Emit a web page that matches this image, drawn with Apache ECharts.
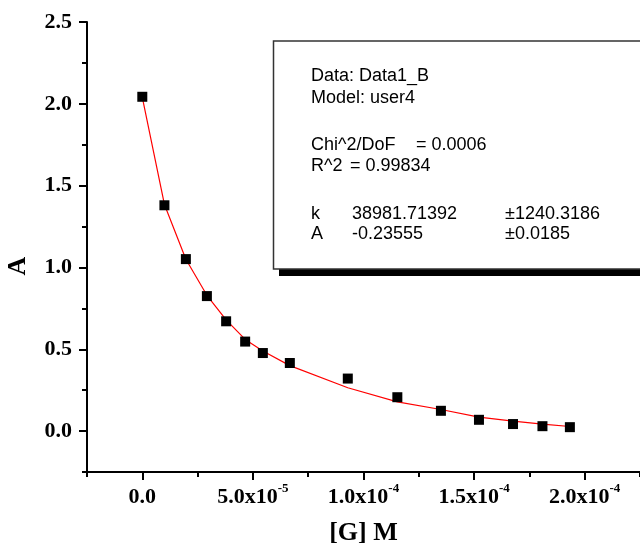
<!DOCTYPE html>
<html>
<head>
<meta charset="utf-8">
<script src="https://cdn.jsdelivr.net/npm/echarts@6/dist/echarts.min.js"></script>
<style>
  html, body { margin: 0; padding: 0; background: #fff; }
  #chart { width: 640px; height: 552px; }
</style>
</head>
<body>
<div id="chart"></div>
<script>
// Guest concentration [G] (M) and measured absorbance A
const concX = [0, 1.0e-5, 1.97e-5, 2.92e-5, 3.79e-5, 4.65e-5, 5.45e-5, 6.67e-5,
               9.29e-5, 11.53e-5, 13.5e-5, 15.22e-5, 16.76e-5, 18.09e-5, 19.33e-5];
const absA = [2.043, 1.380, 1.051, 0.825, 0.671, 0.547, 0.477, 0.416,
              0.321, 0.207, 0.124, 0.069, 0.043, 0.030, 0.024];
// Fitted curve evaluated at the same concentrations
const fitA = [2.04, 1.385, 1.05, 0.83, 0.68, 0.56, 0.49, 0.40,
              0.265, 0.179, 0.132, 0.085, 0.061, 0.043, 0.028];

// Axis ticks and labels
const xTickValues = [0, 5e-5, 1e-4, 1.5e-4, 2e-4];
const xTickLabels = ['{b|0.0}', '{b|5.0x10}{s|-5}', '{b|1.0x10}{s|-4}', '{b|1.5x10}{s|-4}', '{b|2.0x10}{s|-4}'];
const xMinorValues = [-2.5e-5, 2.5e-5, 7.5e-5, 1.25e-4, 1.75e-4, 2.25e-4];
const yTickValues = [0, 0.5, 1, 1.5, 2, 2.5];
const yTickLabels = ['0.0', '0.5', '1.0', '1.5', '2.0', '2.5'];
const yMinorValues = [-0.25, 0.25, 0.75, 1.25, 1.75, 2.25];
const xTitle = '[G] M';
const yTitle = 'A';

// Fit report shown in the panel
const fitInfo = [
  ['Data: Data1_B'],
  ['Model: user4'],
  ['Chi^2/DoF', '= 0.0006'],
  ['R^2', '= 0.99834'],
  ['k', '38981.71392', '\u00b11240.3186'],
  ['A', '-0.23555', '\u00b10.0185']
];

const SERIF = '"Liberation Serif", "Times New Roman", serif';
const SANS = '"Liberation Sans", Arial, sans-serif';

function labelFor(values, labels, v) {
  for (let i = 0; i < values.length; i++) {
    if (Math.abs(values[i] - v) < 1e-9) return labels[i];
  }
  return '';
}

const chart = echarts.init(document.getElementById('chart'), null, { renderer: 'canvas' });

// Panel text layout
const rowY = [76.5, 98, 145, 166, 214, 234.5];
const colX = [
  [311],
  [311],
  [311, 416],
  [311, 350],
  [311, 352, 505],
  [311, 352, 505]
];
const panelTexts = [];
fitInfo.forEach((row, r) => {
  row.forEach((txt, c) => {
    panelTexts.push({
      type: 'text',
      x: colX[r][c],
      y: rowY[r],
      z: 12,
      style: { text: txt, font: '18px ' + SANS, fill: '#000', verticalAlign: 'middle' }
    });
  });
});

const axisLineStyle = { color: '#000', width: 2 };

chart.setOption({
  animation: false,
  backgroundColor: '#fff',
  grid: { left: 87, right: 0, top: 22, bottom: 80, containLabel: false },
  xAxis: [
    {
      type: 'value',
      min: -2.5e-5,
      max: 2.25e-4,
      splitLine: { show: false },
      axisLine: { show: true, onZero: false, lineStyle: axisLineStyle },
      axisTick: { show: true, customValues: xTickValues, length: 8, lineStyle: { color: '#000', width: 2 } },
      axisLabel: {
        customValues: xTickValues,
        margin: 10,
        color: '#000',
        formatter: v => labelFor(xTickValues, xTickLabels, v),
        rich: {
          b: { fontFamily: SERIF, fontWeight: 'bold', fontSize: 22, lineHeight: 26, verticalAlign: 'bottom', color: '#000' },
          s: { fontFamily: SERIF, fontWeight: 'bold', fontSize: 13, lineHeight: 14, verticalAlign: 'top', color: '#000' }
        }
      },
      name: xTitle,
      nameLocation: 'middle',
      nameGap: 48,
      nameTextStyle: { fontFamily: SERIF, fontWeight: 'bold', fontSize: 26, color: '#000' }
    },
    {
      type: 'value',
      position: 'bottom',
      min: -2.5e-5,
      max: 2.25e-4,
      splitLine: { show: false },
      axisLine: { show: false, onZero: false },
      axisTick: { show: true, customValues: xMinorValues, length: 5, lineStyle: { color: '#000', width: 2 } },
      axisLabel: { show: false }
    }
  ],
  yAxis: [
    {
      type: 'value',
      min: -0.25,
      max: 2.5,
      splitLine: { show: false },
      axisLine: { show: true, onZero: false, lineStyle: axisLineStyle },
      axisTick: { show: true, customValues: yTickValues, length: 8, lineStyle: { color: '#000', width: 2 } },
      axisLabel: {
        customValues: yTickValues,
        margin: 15,
        color: '#000',
        fontFamily: SERIF,
        fontWeight: 'bold',
        fontSize: 22,
        formatter: v => labelFor(yTickValues, yTickLabels, v)
      }
    },
    {
      type: 'value',
      position: 'left',
      min: -0.25,
      max: 2.5,
      splitLine: { show: false },
      axisLine: { show: false, onZero: false },
      axisTick: { show: true, customValues: yMinorValues, length: 5, lineStyle: { color: '#000', width: 2 } },
      axisLabel: { show: false }
    }
  ],
  series: [
    {
      name: 'fit',
      type: 'line',
      data: concX.map((x, i) => [x, fitA[i]]),
      showSymbol: false,
      symbol: 'none',
      lineStyle: { color: '#ff0000', width: 1.2 },
      z: 3
    },
    {
      name: 'A',
      type: 'scatter',
      data: concX.map((x, i) => [x, absA[i]]),
      symbol: 'rect',
      symbolSize: 10,
      itemStyle: { color: '#000', opacity: 1 },
      z: 4
    }
  ],
  graphic: [
    {
      // vertical axis title, reading bottom to top
      type: 'text',
      x: 18,
      y: 266,
      rotation: Math.PI / 2,
      z: 12,
      style: { text: yTitle, font: 'bold 26px ' + SERIF, fill: '#000', align: 'center', verticalAlign: 'middle' }
    },
    {
      type: 'rect',
      z: 10,
      shape: { x: 279, y: 48, width: 400, height: 228 },
      style: { fill: '#000' }
    },
    {
      type: 'rect',
      z: 11,
      shape: { x: 273.5, y: 41, width: 400, height: 228 },
      style: { fill: '#fff', stroke: '#333', lineWidth: 1.5 }
    }
  ].concat(panelTexts)
});
</script>
</body>
</html>
